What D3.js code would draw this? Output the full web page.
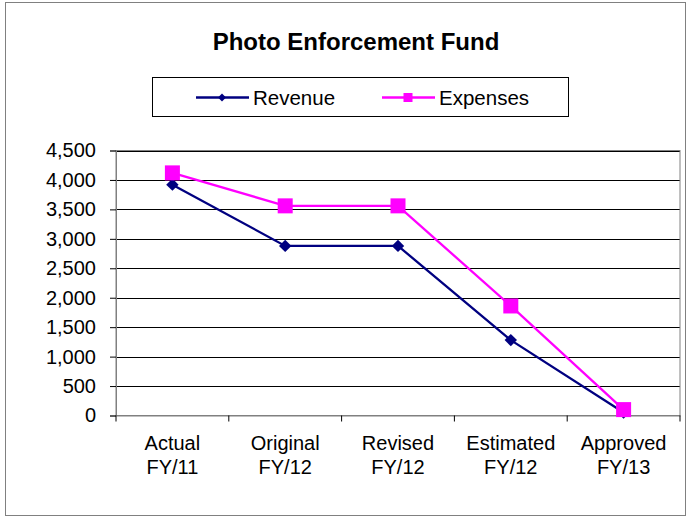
<!DOCTYPE html>
<html><head><meta charset="utf-8">
<script src="https://cdn.jsdelivr.net/npm/d3@7"></script>
<style>body{margin:0;background:#fff}svg{display:block}text{font-family:"Liberation Sans",Arial,sans-serif}</style>
</head><body>
<svg id="c" width="687" height="520"></svg>
<script>
const categories = [["Actual","FY/11"],["Original","FY/12"],["Revised","FY/12"],["Estimated","FY/12"],["Approved","FY/13"]];
const revenue = [3920, 2880, 2880, 1280, 50];
const expenses = [4120, 3560, 3560, 1860, 100];
const yTicks = [0,500,1000,1500,2000,2500,3000,3500,4000,4500];

const FONT = "'Liberation Sans',Arial,sans-serif";
const svg = d3.select("#c");
svg.append("rect").attr("x",5.5).attr("y",2.5).attr("width",680).attr("height",513)
  .attr("fill","#fff").attr("stroke","#808080").attr("stroke-width",1);

const L=116, R=680, T=150.5, B=415.5;
const x = d3.scaleBand().domain(d3.range(categories.length)).range([L,R]);
const y = d3.scaleLinear().domain([0,4500]).range([B,T]);

// grid
svg.append("g").selectAll("line").data(yTicks.slice(1)).join("line")
  .attr("x1",L).attr("x2",R).attr("y1",d=>Math.round(y(d))+0.5).attr("y2",d=>Math.round(y(d))+0.5)
  .attr("stroke","#000").attr("stroke-width",1);
svg.append("rect").attr("x",L).attr("y",T).attr("width",R-L).attr("height",B-T)
  .attr("fill","none").attr("stroke","#808080");

// y axis
const ya = svg.append("g").attr("transform",`translate(${L},0)`)
  .call(d3.axisLeft(y).tickValues(yTicks).tickSize(6).tickPadding(14).tickFormat(d3.format(",")));
ya.select(".domain").attr("stroke","#808080");
ya.selectAll(".tick line").attr("stroke","#000");
ya.selectAll("text").attr("font-size",20).attr("fill","#000").style("font-family",FONT);

// x axis
const xa = svg.append("g").attr("transform",`translate(0,${B})`)
  .call(d3.axisBottom(x).tickSize(0).tickFormat(""));
xa.select(".domain").attr("stroke","#808080");
svg.append("g").selectAll("line").data(d3.range(categories.length+1)).join("line")
  .attr("x1",i=>i<categories.length?x(i):R).attr("x2",i=>i<categories.length?x(i):R)
  .attr("y1",B).attr("y2",B+6).attr("stroke","#000");
const xl = svg.append("g").selectAll("text").data(categories).join("text")
  .attr("text-anchor","middle").attr("font-size",20).attr("fill","#000")
  .attr("x",(d,i)=>x(i)+x.bandwidth()/2).attr("y",450);
xl.append("tspan").text(d=>d[0]);
xl.append("tspan").attr("x",(d,i)=>x(i)+x.bandwidth()/2).attr("dy",24).text(d=>d[1]);

const cx = i => x(i)+x.bandwidth()/2;
const line = d3.line().x((d,i)=>cx(i)).y(d=>y(d));
svg.append("path").datum(revenue).attr("d",line).attr("fill","none").attr("stroke","#000080").attr("stroke-width",2.3);
svg.append("path").datum(expenses).attr("d",line).attr("fill","none").attr("stroke","#FF00FF").attr("stroke-width",2.3);

const diamond = d3.symbol().type(d3.symbolDiamond2).size(98);
svg.append("g").selectAll("path").data(revenue).join("path")
  .attr("d",diamond).attr("transform",(d,i)=>`translate(${cx(i)},${y(d)})`).attr("fill","#000080");
svg.append("g").selectAll("rect").data(expenses).join("rect")
  .attr("x",(d,i)=>cx(i)-7.5).attr("y",d=>y(d)-7.5).attr("width",15).attr("height",15).attr("fill","#FF00FF");

// title
svg.append("text").attr("x",356).attr("y",50).attr("text-anchor","middle")
  .attr("font-size",24).attr("font-weight","bold").attr("fill","#000").text("Photo Enforcement Fund");

// legend
const lg = svg.append("g");
lg.append("rect").attr("x",152.5).attr("y",77.5).attr("width",416).attr("height",39)
  .attr("fill","#fff").attr("stroke","#000");
const legendDiamond = d3.symbol().type(d3.symbolDiamond2).size(40);
const legendItems = [{name:"Revenue",color:"#000080",type:"d",x0:196},{name:"Expenses",color:"#FF00FF",type:"s",x0:382}];
legendItems.forEach(it=>{
  lg.append("line").attr("x1",it.x0).attr("x2",it.x0+53).attr("y1",97.5).attr("y2",97.5)
    .attr("stroke",it.color).attr("stroke-width",2.3);
  if(it.type==="d") lg.append("path").attr("d",legendDiamond).attr("transform",`translate(${it.x0+26},97.5)`).attr("fill",it.color);
  else lg.append("rect").attr("x",it.x0+21.5).attr("y",93).attr("width",9).attr("height",9).attr("fill",it.color);
  lg.append("text").attr("x",it.x0+57).attr("y",104.5).attr("font-size",20.5).attr("fill","#000").text(it.name);
});
</script>
</body></html>
